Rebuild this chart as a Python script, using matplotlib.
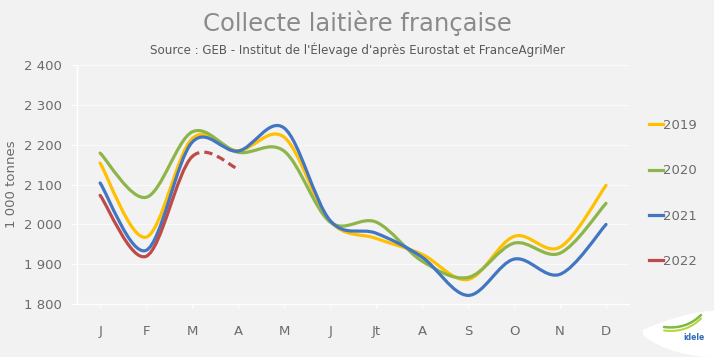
import matplotlib.pyplot as plt
from matplotlib.path import Path
from matplotlib.patches import PathPatch
from matplotlib.lines import Line2D
from matplotlib.ticker import FuncFormatter

months = ["J", "F", "M", "A", "M", "J", "Jt", "A", "S", "O", "N", "D"]
v2019 = [2154, 1968, 2215, 2185, 2219, 2008, 1965, 1925, 1862, 1970, 1943, 2098]
v2020 = [2179, 2068, 2232, 2181, 2184, 2006, 2006, 1908, 1867, 1953, 1928, 2053]
v2021 = [2104, 1935, 2206, 2184, 2242, 2010, 1978, 1918, 1822, 1913, 1875, 2000]
v2022 = [2073, 1920, 2170, 2139]

colors = {"2019": "#FFC000", "2020": "#8DB54A", "2021": "#4276C2", "2022": "#BE4B48"}
txt = "#6b6b6b"
bg = "#f2f2f2"


def bezier_segments(xs, ys):
    # Excel-style smoothed line: Catmull-Rom as cubic Bezier segments
    pts = list(zip(xs, ys))
    ext = [pts[0]] + pts + [pts[-1]]
    segs = []
    for i in range(1, len(ext) - 2):
        p0, p1, p2, p3 = ext[i - 1], ext[i], ext[i + 1], ext[i + 2]
        c1 = (p1[0] + (p2[0] - p0[0]) / 6, p1[1] + (p2[1] - p0[1]) / 6)
        c2 = (p2[0] - (p3[0] - p1[0]) / 6, p2[1] - (p3[1] - p1[1]) / 6)
        segs.append((p1, c1, c2, p2))
    return segs


def segs_to_path(segs):
    verts = [segs[0][0]]
    codes = [Path.MOVETO]
    for s in segs:
        verts += list(s[1:])
        codes += [Path.CURVE4] * 3
    return Path(verts, codes)


fig = plt.figure(figsize=(7.14, 3.57), dpi=100, facecolor=bg)
ax = fig.add_axes([0.108, 0.148, 0.773, 0.67], facecolor=bg)

x = list(range(len(months)))
for name, vals in [("2019", v2019), ("2020", v2020), ("2021", v2021)]:
    ax.add_patch(PathPatch(segs_to_path(bezier_segments(x, vals)), fill=False, lw=2.3,
                           edgecolor=colors[name], capstyle="round", zorder=3))

# 2022: solid up to March, dashed after
segs22 = bezier_segments(x[:len(v2022)], v2022)
n_solid = 2
ax.add_patch(PathPatch(segs_to_path(segs22[:n_solid]), fill=False, lw=2.3,
                       edgecolor=colors["2022"], capstyle="round", zorder=4))
ax.add_patch(PathPatch(segs_to_path(segs22[n_solid:]), fill=False, lw=2.3,
                       edgecolor=colors["2022"], linestyle=(0, (2.6, 1.6)), zorder=4))

ax.set_xlim(-0.5, 11.5)
ax.set_ylim(1800, 2400)
ax.set_xticks(x)
ax.set_xticklabels(months)
ax.set_yticks(range(1800, 2401, 100))
ax.yaxis.set_major_formatter(FuncFormatter(lambda v, p: f"{int(v):,}".replace(",", " ")))
ax.grid(axis="y", color="white", lw=0.6, alpha=0.8, zorder=0)
for s in ["top", "right"]:
    ax.spines[s].set_visible(False)
for s in ["left", "bottom"]:
    ax.spines[s].set_color("white")
    ax.spines[s].set_linewidth(1)
ax.tick_params(axis="both", colors="white", labelcolor=txt, labelsize=9.5, length=4)
ax.tick_params(axis="x", pad=12, length=3)
ax.tick_params(axis="y", pad=7)
ax.set_ylabel("1 000 tonnes", color=txt, fontsize=9.5, labelpad=4)

handles = [Line2D([], [], color=colors[k], lw=2.3) for k in colors]
fig.legend(handles, list(colors), loc="upper left", bbox_to_anchor=(0.893, 0.7),
           frameon=False, handlelength=1.0, handletextpad=0.05, labelspacing=2.45,
           fontsize=9.5, labelcolor=txt)

fig.text(0.5, 0.935, "Collecte laitière française", ha="center", va="center",
         fontsize=17.5, color="#8a8a8a")
fig.text(0.5, 0.86, "Source : GEB - Institut de l'Élevage d'après Eurostat et FranceAgriMer",
         ha="center", va="center", fontsize=8.6, color="#595959")

# idele logo (approximation), figure pixel coords
W, H = 714, 357


def px_path(pts, codes):
    return Path([(px / W, 1 - py / H) for px, py in pts], codes)


blob = px_path([(643, 330), (670, 318), (700, 310), (714, 311), (714, 357), (690, 357),
                (660, 350), (643, 335), (643, 330)],
               [Path.MOVETO, Path.CURVE4, Path.CURVE4, Path.CURVE4, Path.LINETO,
                Path.CURVE4, Path.CURVE4, Path.CURVE4, Path.CLOSEPOLY])
fig.patches.append(PathPatch(blob, transform=fig.transFigure, facecolor="white",
                             edgecolor="none"))
for yoff, col, lw in [(0, "#7dbb42", 1.8), (3.5, "#b7d433", 1.4)]:
    sw = px_path([(664, 327 + yoff), (680, 329 + yoff), (692, 324 + yoff), (701, 315 + yoff)],
                 [Path.MOVETO, Path.CURVE4, Path.CURVE4, Path.CURVE4])
    fig.patches.append(PathPatch(sw, transform=fig.transFigure, fill=False,
                                 edgecolor=col, lw=lw, capstyle="round"))
fig.text(694 / W, 1 - 337 / H, "idele", ha="center", va="center", fontsize=5.5,
         color="#2f6db5", fontweight="bold")

fig.savefig("out.png", dpi=100, facecolor=bg)
